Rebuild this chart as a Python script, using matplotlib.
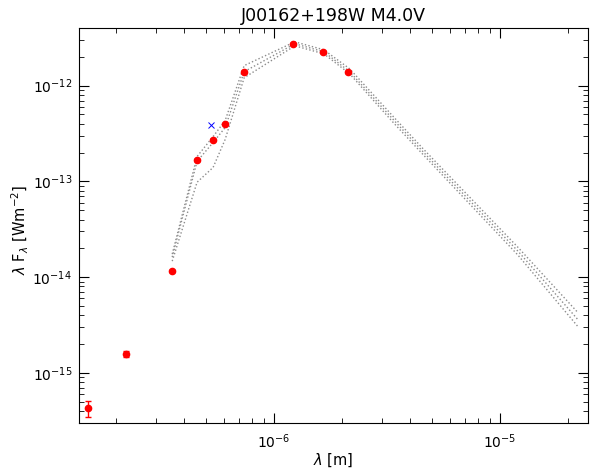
import matplotlib
matplotlib.use("Agg")
import matplotlib.pyplot as plt

# photometry (wavelength [m], lambda*F_lambda [W m^-2], error)
wl = [1.50e-7, 2.21e-7, 3.54e-7, 4.56e-7, 5.37e-7, 6.07e-7, 7.37e-7,
      1.21e-6, 1.65e-6, 2.12e-6]
flux = [4.3e-16, 1.58e-15, 1.15e-14, 1.69e-13, 2.74e-13, 4.02e-13, 1.40e-12,
        2.74e-12, 2.26e-12, 1.40e-12]
err = [0.8e-16, 0.1e-15, 0.3e-15, 0.4e-14, 0.5e-14, 0.8e-14, 0.3e-13,
       0.5e-13, 0.4e-13, 0.3e-13]

# excluded point
wl_x = [5.26e-7]
flux_x = [3.93e-13]

# model spectra evaluated at filter wavelengths
model_wl = [3.54e-7, 4.56e-7, 5.37e-7, 6.07e-7, 7.37e-7, 1.235e-6, 1.66e-6,
            2.16e-6, 3.4e-6, 4.6e-6, 1.2e-5, 2.2e-5]
model_a = [1.74e-14, 1.82e-13, 2.94e-13, 4.32e-13, 1.62e-12, 2.87e-12, 2.37e-12,
           1.50e-12, 4.64e-13, 2.15e-13, 2.05e-14, 4.32e-15]
model_b = [1.62e-14, 1.62e-13, 2.55e-13, 3.65e-13, 1.40e-12, 2.74e-12, 2.26e-12,
           1.40e-12, 4.32e-13, 2.00e-13, 1.87e-14, 3.65e-15]
model_c = [1.47e-14, 9.8e-14, 1.40e-13, 2.74e-13, 1.21e-12, 2.61e-12, 2.15e-12,
           1.33e-12, 4.02e-13, 1.87e-13, 1.70e-14, 3.09e-15]

fig = plt.figure(figsize=(5.9, 4.75), dpi=100)
ax = fig.add_axes([0.134, 0.1095, 0.8626, 0.8315])

for m in (model_a, model_b, model_c):
    ax.plot(model_wl, m, color="0.55", linestyle=(0, (1, 1.6)), linewidth=1.0)

ax.errorbar(wl, flux, yerr=err, fmt="o", color="red", mec="red",
            markersize=4.5, elinewidth=1, capsize=2.5, zorder=3)
ax.plot(wl_x, flux_x, "x", color="blue", markersize=5, mew=0.7)

ax.set_xscale("log")
ax.set_yscale("log")
ax.set_xlim(1.37e-7, 2.45e-5)
ax.set_ylim(3.0e-16, 4.0e-12)

ax.tick_params(which="both", direction="in", top=True, right=True, labelsize=10)
ax.tick_params(which="major", length=7)
ax.tick_params(which="minor", length=3.5)
ax.tick_params(axis="x", pad=7)
ax.tick_params(axis="y", pad=5)

ax.set_xlabel(r"$\lambda$ [m]", fontsize=10.5)
ax.set_ylabel(r"$\lambda$ F$_\lambda$ [Wm$^{-2}$]", fontsize=10.5)
ax.xaxis.set_label_coords(0.5, -0.072)
ax.yaxis.set_label_coords(-0.094, 0.49)
ax.set_title("J00162+198W M4.0V", fontsize=12.5, pad=5)

fig.savefig("out.png", dpi=100)
